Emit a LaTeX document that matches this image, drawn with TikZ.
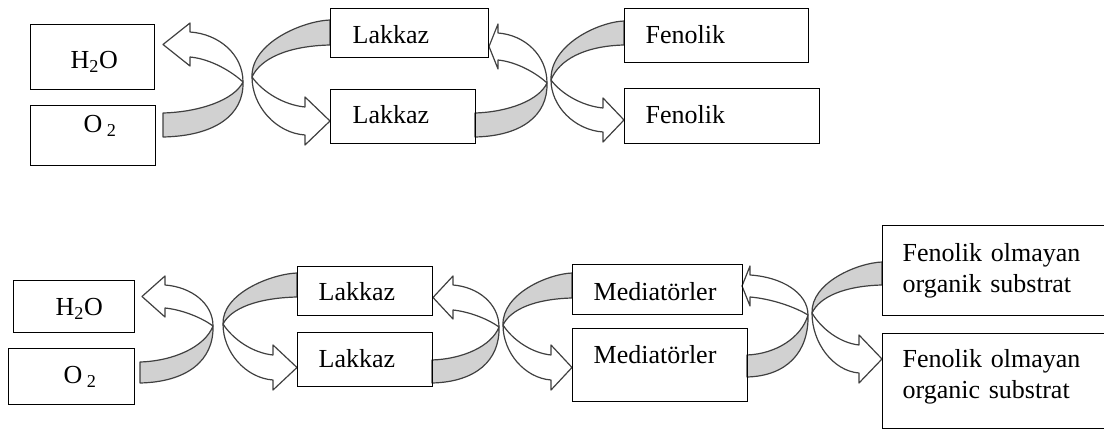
\documentclass[tikz,border=0pt]{standalone}
\usepackage{fontspec}
\setmainfont{Liberation Serif}
\usetikzlibrary{backgrounds}
\definecolor{ribbonfill}{gray}{0.82}
\definecolor{ribbonline}{gray}{0.25}
% left-opening ribbon arrow: crossing (#1,#2), grey start x #3 with y #4 (inner) / #5 (outer),
% head shaft x #6 with y #7 (outer) / #8 (inner), tip x #9
\newcommand\ribL[9]{%
 \filldraw[ribbon, fill=ribbonfill] (#3,#4) .. controls ({#3+0.46*(#1-#3)},{#4-1}) and ({#3+0.89*(#1-#3)},{#2+0.58*(#4-#2)}) .. (#1,#2) .. controls ({#1+1},{#2+0.6*(#5-#2)}) and ({#3+0.65*(#1-#3)},{#5-1}) .. (#3,#5) -- cycle;
 \filldraw[ribbon, fill=white] (#1,#2) .. controls ({#1-0.2*(#1-#6)},{#2-0.4*(#2-#8)}) and ({#6+0.4*(#1-#6)},{#8+2}) .. (#6,#8) -- (#6,{#8+9}) -- (#9,{(#7+#8)/2}) -- (#6,{#7-9}) -- (#6,#7) .. controls ({#6+0.55*(#1-#6)},{#7+2}) and (#1,{#2-0.55*(#2-#7)}) .. (#1,#2) -- cycle;
}
% right-opening ribbon arrow
\newcommand\ribR[9]{%
 \filldraw[ribbon, fill=ribbonfill] (#1,#2) .. controls ({#1-1},{#2-0.6*(#2-#4)}) and ({#3-0.35*(#3-#1)},{#4+1}) .. (#3,#4) -- (#3,#5) .. controls ({#3-0.54*(#3-#1)},{#5+1}) and ({#1+0.11*(#3-#1)},{#2-0.58*(#2-#5)}) .. (#1,#2) -- cycle;
 \filldraw[ribbon, fill=white] (#1,#2) .. controls ({#1+0.2*(#6-#1)},{#2+0.5*(#7-#2)}) and ({#6-0.4*(#6-#1)},{#7-2}) .. (#6,#7) -- (#6,{#7-10}) -- (#9,{(#7+#8)/2}) -- (#6,{#8+10}) -- (#6,#8) .. controls ({#6-0.55*(#6-#1)},{#8-2}) and (#1,{#2+0.5*(#8-#2)}) .. (#1,#2) -- cycle;
}
\begin{document}
\begin{tikzpicture}[x=1pt,y=-1pt,
  ribbon/.style={draw=ribbonline, line width=1.2pt, line join=round},
  box/.style={draw=black, line width=1.4pt, anchor=north west, inner xsep=0pt, inner ysep=0pt,
    align=left, font=\fontsize{26}{31}\selectfont}]
\path[use as bounding box] (0,0) rectangle (1104,430);
\clip (0,0) rectangle (1104,430);
% top row
\node[box, minimum width=124, minimum height=65, text width=124, text height=26pt, text depth=3pt] (h2oA) at (30,24) {\hspace*{40pt}H\textsubscript{2}O};
\node[box, minimum width=125, minimum height=60, text width=125, text height=18pt, text depth=24pt] (o2A) at (30,105) {\hspace*{53pt}O\,\textsubscript{2}};
\node[box, minimum width=158, minimum height=49, text width=158, text height=21pt, text depth=0pt] (lakA1) at (330,8) {\hspace*{22pt}Lakkaz};
\node[box, minimum width=145, minimum height=54, text width=145, text height=18pt, text depth=4pt] (lakA2) at (330,89) {\hspace*{22pt}Lakkaz};
\node[box, minimum width=184, minimum height=54, text width=184, text height=18pt, text depth=2pt] (fenA1) at (624,8) {\hspace*{21pt}Fenolik};
\node[box, minimum width=195, minimum height=55, text width=195, text height=18pt, text depth=3pt] (fenA2) at (624,88) {\hspace*{21pt}Fenolik};
% bottom row
\node[box, minimum width=121, minimum height=52, text width=121, text height=20pt, text depth=2pt] (h2oB) at (13,280) {\hspace*{42pt}H\textsubscript{2}O};
\node[box, minimum width=126, minimum height=56, text width=126, text height=18pt, text depth=4pt] (o2B) at (8,348) {\hspace*{55pt}O\,\textsubscript{2}};
\node[box, minimum width=135, minimum height=49, text width=135, text height=19pt, text depth=0pt] (lakB1) at (297,266) {\hspace*{21pt}Lakkaz};
\node[box, minimum width=135, minimum height=54, text width=135, text height=18pt, text depth=2pt] (lakB2) at (297,332) {\hspace*{21pt}Lakkaz};
\node[box, minimum width=170, minimum height=50, text width=170, text height=22pt, text depth=0pt] (medB1) at (572,264) {\hspace*{21pt}Mediatörler};
\node[box, minimum width=175, minimum height=73, text width=175, text height=18pt, text depth=21pt] (medB2) at (572,328) {\hspace*{21pt}Mediatörler};
\node[box, minimum width=240, minimum height=90, text width=240, text height=18pt, text depth=36pt] (fenB1) at (882,225) {\hspace*{20pt}Fenolik olmayan\\\hspace*{20pt}organik substrat};
\node[box, minimum width=240, minimum height=95, text width=240, text height=18pt, text depth=45pt] (fenB2) at (882,333) {\hspace*{20pt}Fenolik olmayan\\\hspace*{20pt}organic substrat};
\begin{pgfonlayer}{background}
% top pairs
\ribL{243}{82}{163}{113}{137}{190}{32}{57}{163}
\ribR{252}{77}{330}{20}{45}{305}{107}{135}{330}
\ribL{547}{83}{475}{113}{137}{498}{33}{60}{489}
\ribR{551}{80}{624}{21}{45}{603}{108}{132}{624}
% bottom pairs
\ribL{213}{326}{140}{362}{383}{165}{285}{308}{142}
\ribR{223}{324}{297}{273}{297}{273}{355}{380}{297}
\ribL{499}{327}{432}{360}{383}{453}{285}{310}{433}
\ribR{503}{325}{572}{273}{298}{551}{355}{380}{572}
\ribL{808}{315}{747}{355}{377}{750}{275}{297}{742}
\ribR{812}{313}{882}{262}{285}{859}{345}{373}{882}
\end{pgfonlayer}
\end{tikzpicture}
\end{document}
